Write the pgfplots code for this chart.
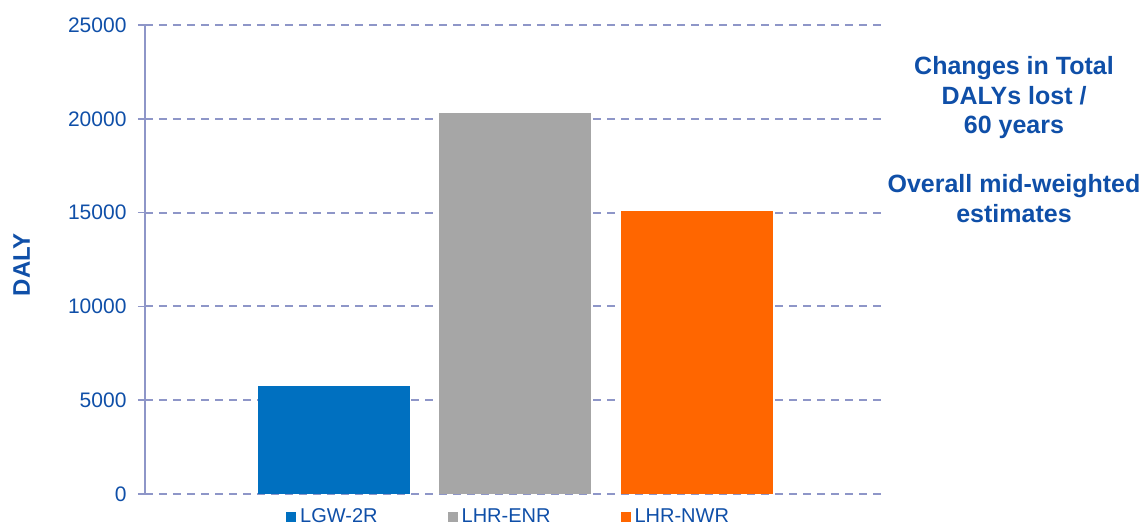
\documentclass[border=0pt]{standalone}
\usepackage{fontspec}
\setmainfont{Liberation Sans}
\usepackage{pgfplots}
\pgfplotsset{compat=1.18}
\definecolor{txtblue}{HTML}{0F4FA8}
\definecolor{axcol}{HTML}{8E96C8}
\definecolor{cblue}{HTML}{0070C0}
\definecolor{cgray}{HTML}{A6A6A6}
\definecolor{corange}{HTML}{FF6600}
\pgfplotsset{mybar/.style={ybar, bar width=152pt, bar shift=0pt, draw=none, fill=#1,
  legend image code/.code={\fill[#1] (0pt,-5pt) rectangle (10pt,5pt);}}}
\begin{document}
\begin{tikzpicture}[x=1pt,y=1pt]
\path[use as bounding box] (0,0) rectangle (1146,526);
\begin{axis}[
 at={(145pt,32pt)}, anchor=south west,
 scale only axis, width=736pt, height=469pt,
 xmin=-1.041, xmax=3.014, ymin=0, ymax=25000,
 axis lines*=left, x axis line style={draw=none},
 y axis line style={draw=axcol, line width=1.6pt},
 xtick=\empty,
 ytick={0,5000,10000,15000,20000,25000},
 scaled y ticks=false,
 yticklabel style={/pgf/number format/1000 sep={}, font=\fontsize{21}{25}\selectfont, text=txtblue, xshift=-8pt},
 /pgf/number format/assume math mode=true,
 tick align=outside, major tick length=7pt,
 ytick style={draw=axcol, line width=1.6pt},
 ymajorgrids, grid style={draw=axcol, line width=2pt, dash pattern=on 8pt off 6pt},
 ylabel={DALY},
 ylabel style={at={(axis description cs:-0.1678,0.489)}, anchor=center, font=\bfseries\fontsize{24}{28}\selectfont, text=txtblue},
 legend columns=3,
 legend style={at={(axis description cs:0.1916,-0.048)}, anchor=west, draw=none, fill=none, inner sep=0pt,
   font=\fontsize{20}{24}\selectfont, text=txtblue,
   /tikz/every odd column/.append style={column sep=4pt},
   /tikz/every even column/.append style={column sep=70pt},
   nodes={inner sep=0pt}},
]
\addplot[mybar=cblue] coordinates {(0,5760)};
\addplot[mybar=cgray] coordinates {(1,20320)};
\addplot[mybar=corange] coordinates {(2,15090)};
\legend{LGW-2R, LHR-ENR, LHR-NWR}
\end{axis}
\begin{scope}[every node/.style={anchor=base, font=\bfseries\fontsize{25}{30}\selectfont, text=txtblue, inner sep=0pt}]
\node at (1014,451) {Changes in Total};
\node at (1014,421.5) {DALYs lost /};
\node at (1014,392) {60 years};
\node at (1014,333) {Overall mid-weighted};
\node at (1014,303.5) {estimates};
\end{scope}
\end{tikzpicture}
\end{document}
